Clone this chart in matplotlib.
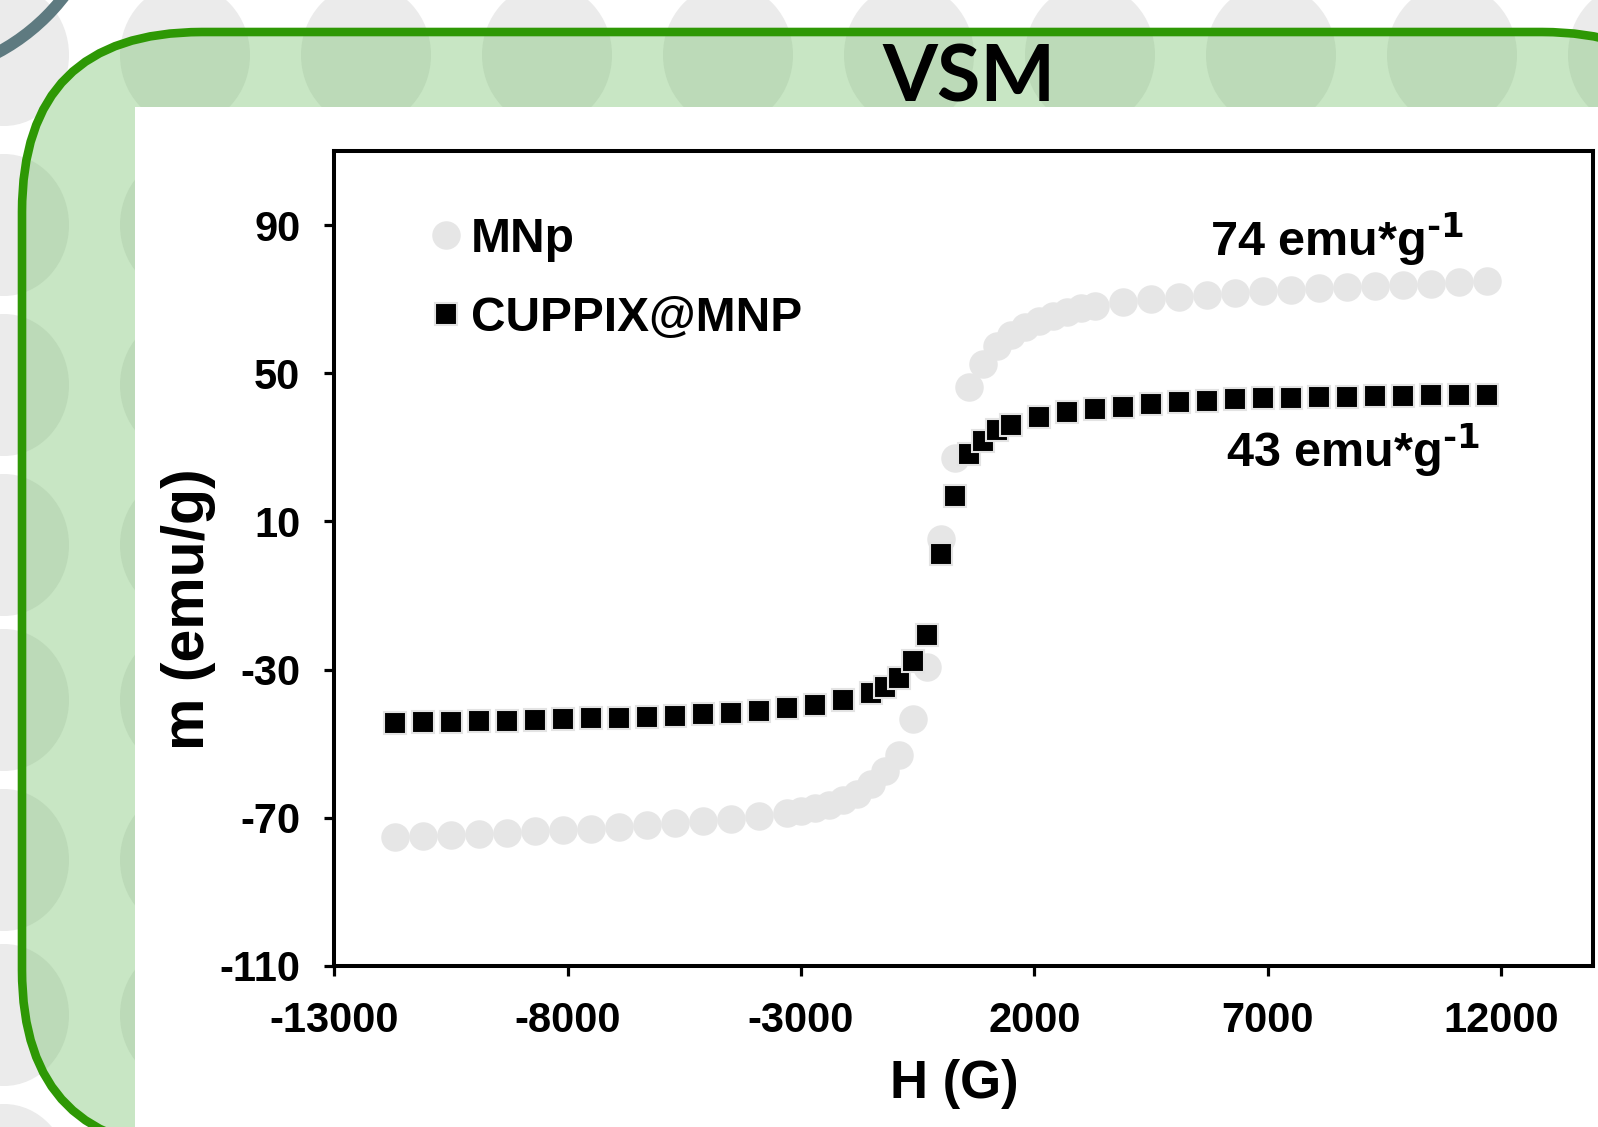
import matplotlib.pyplot as plt
from matplotlib.patches import Circle, Ellipse, FancyBboxPatch, Rectangle

# VSM data: field H (G) and magnetization m (emu/g)
h_mnp = [-11700, -11100, -10500, -9900, -9300, -8700, -8100, -7500, -6900,
         -6300, -5700, -5100, -4500, -3900, -3300, -3000, -2700, -2400,
         -2100, -1800, -1500, -1200, -900, -600, -300, 0, 300, 600, 900,
         1200, 1500, 1800, 2100, 2400, 2700, 3000, 3300, 3900, 4500, 5100,
         5700, 6300, 6900, 7500, 8100, 8700, 9300, 9900, 10500, 11100, 11700]
m_mnp = [-75.3, -75.0, -74.7, -74.4, -74.1, -73.7, -73.3, -72.9, -72.5,
         -72.0, -71.5, -70.9, -70.3, -69.6, -68.7, -68.2, -67.5, -66.6,
         -65.3, -63.6, -61.0, -57.5, -53.0, -43.3, -29.2, 5.3, 27.0, 46.2,
         52.6, 57.4, 60.4, 62.6, 64.2, 65.5, 66.6, 67.5, 68.2, 69.3, 70.1,
         70.7, 71.2, 71.7, 72.1, 72.5, 72.9, 73.3, 73.6, 73.9, 74.2, 74.5,
         74.8]

h_cup = [-11700, -11100, -10500, -9900, -9300, -8700, -8100, -7500, -6900,
         -6300, -5700, -5100, -4500, -3900, -3300, -2700, -2100, -1500,
         -1200, -900, -600, -300, 0, 300, 600, 900, 1200, 1500, 2100, 2700,
         3300, 3900, 4500, 5100, 5700, 6300, 6900, 7500, 8100, 8700, 9300,
         9900, 10500, 11100, 11700]
m_cup = [-44.3, -44.2, -44.1, -44.0, -43.8, -43.6, -43.4, -43.2, -43.0,
         -42.7, -42.4, -42.0, -41.6, -41.1, -40.4, -39.5, -38.2, -36.3,
         -34.6, -32.4, -27.8, -20.6, 1.3, 16.8, 28.1, 31.8, 34.6, 36.0,
         38.1, 39.5, 40.3, 41.0, 41.6, 42.1, 42.5, 42.9, 43.2, 43.4, 43.6,
         43.7, 43.8, 43.9, 44.0, 44.1, 44.2]

series_names = ['MNp', 'CUPPIX@MNP']
x_ticks = [-13000, -8000, -3000, 2000, 7000, 12000]
y_ticks = [-110, -70, -30, 10, 50, 90]
sat_labels = ['74 emu*g$^{\\text{-1}}$', '43 emu*g$^{\\text{-1}}$']

plt.rcParams['font.family'] = ['Liberation Sans', 'DejaVu Sans']
plt.rcParams['font.weight'] = 'bold'
plt.rcParams['axes.unicode_minus'] = False
plt.rcParams['mathtext.default'] = 'regular'

fig = plt.figure(figsize=(15.98, 11.27), dpi=100)

# slide background, drawn in pixel units
bg = fig.add_axes([0, 0, 1, 1])
bg.set_xlim(0, 1598)
bg.set_ylim(1127, 0)
bg.axis('off')

for cx in [4, 185, 366, 547, 728, 909, 1090, 1271, 1452, 1633]:
    for cy in [55, 225, 385, 545, 700, 860, 1015, 1175]:
        bg.add_patch(Ellipse((cx, cy), 130, 142, color='#ebebeb', lw=0, zorder=1))

bg.add_patch(Circle((-100, -130), 207, fill=False, ec='#5e7a80', lw=8.5, zorder=2))

panel = FancyBboxPatch((22, 32), 1700, 1118,
                       boxstyle='round,pad=0,rounding_size=180',
                       fc=(118 / 255, 193 / 255, 108 / 255, 0.4),
                       ec='#2e9805', lw=6.2, zorder=3)
bg.add_patch(panel)
bg.add_patch(Rectangle((135, 107), 1500, 1100, fc='white', lw=0, zorder=4))
bg.text(969, 101, 'VSM', family='Lato', fontsize=57, fontweight='bold',
        ha='center', va='baseline', zorder=5)

# the chart itself
ax = fig.add_axes([0.2092, 0.1429, 0.7877, 0.7232])
ax.set_facecolor('white')

ax.plot(h_mnp, m_mnp, 'o', ms=19.5, color='#e6e6e6', mec='#e6e6e6',
        label=series_names[0], zorder=3)
ax.plot(h_cup, m_cup, 's', ms=15.5, mfc='black', mec='#e3e3e3', mew=1.5,
        label=series_names[1], zorder=4)

ax.set_xlim(-13000, 13970)
ax.set_ylim(-110, 110)
ax.set_xticks(x_ticks)
ax.set_yticks(y_ticks)
for sp in ax.spines.values():
    sp.set_linewidth(2.9)
ax.tick_params(direction='out', length=7.5, width=2.3, labelsize=30)
ax.tick_params(axis='x', pad=18)
ax.tick_params(axis='y', pad=17)

ax.text(0.4925, -0.1448, 'H (G)', transform=ax.transAxes, fontsize=38,
        ha='center', va='center')
ax.text(-0.116, 0.438, 'm (emu/g)', transform=ax.transAxes, fontsize=42.5,
        rotation=90, ha='center', va='center')

ax.text(11200, 81.6, sat_labels[0], fontsize=35, ha='right', va='baseline')
ax.text(11550, 24.6, sat_labels[1], fontsize=35, ha='right', va='baseline')

ax.legend(loc='upper left', bbox_to_anchor=(0.0772, 0.919), frameon=False,
          fontsize=34.5, numpoints=1, handlelength=0.6, handletextpad=0.22,
          labelspacing=0.71, borderpad=0, borderaxespad=0)

plt.savefig('out.png', dpi=100)
